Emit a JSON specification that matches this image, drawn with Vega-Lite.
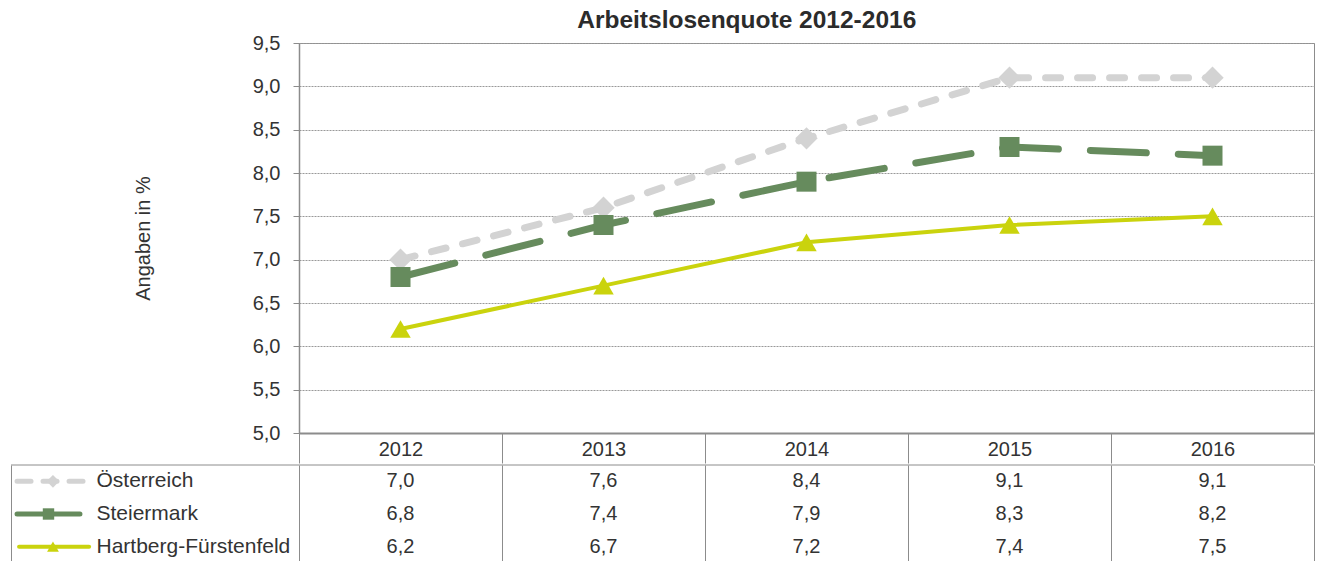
{
  "$schema": "https://vega.github.io/schema/vega-lite/v6.json",
  "background": "white",
  "padding": {"left": 10, "top": 7, "right": 6, "bottom": 0},
  "config": {"font": "Liberation Sans", "concat": {"spacing": 0}, "view": {"stroke": null}},
  "title": {"text": "Arbeitslosenquote 2012-2016", "fontSize": 24.5, "fontWeight": "bold", "color": "#2b2b2b", "anchor": "middle", "offset": -0.5, "dx": 84, "font": "Liberation Sans"},
  "datasets": {
    "quote": [
      {"series": "Österreich", "year": 2012, "value": 7.0},
      {"series": "Österreich", "year": 2013, "value": 7.6},
      {"series": "Österreich", "year": 2014, "value": 8.4},
      {"series": "Österreich", "year": 2015, "value": 9.1},
      {"series": "Österreich", "year": 2016, "value": 9.1},
      {"series": "Steiermark", "year": 2012, "value": 6.8},
      {"series": "Steiermark", "year": 2013, "value": 7.4},
      {"series": "Steiermark", "year": 2014, "value": 7.9},
      {"series": "Steiermark", "year": 2015, "value": 8.3},
      {"series": "Steiermark", "year": 2016, "value": 8.2},
      {"series": "Hartberg-Fürstenfeld", "year": 2012, "value": 6.2},
      {"series": "Hartberg-Fürstenfeld", "year": 2013, "value": 6.7},
      {"series": "Hartberg-Fürstenfeld", "year": 2014, "value": 7.2},
      {"series": "Hartberg-Fürstenfeld", "year": 2015, "value": 7.4},
      {"series": "Hartberg-Fürstenfeld", "year": 2016, "value": 7.5}
    ]
  },
  "vconcat": [
    {
      "width": 1015,
      "height": 390,
      "view": {"stroke": "#8c8c8c", "strokeWidth": 1},
      "data": {"name": "quote"},
      "encoding": {
        "x": {
          "field": "year", "type": "ordinal",
          "scale": {"type": "band", "paddingInner": 0, "paddingOuter": 0},
          "axis": {"title": null, "labelAngle": 0, "labelFontSize": 20, "labelColor": "#333333", "labelPadding": -24, "labelBaseline": "top", "tickBand": "extent", "tickSize": 30, "tickColor": "#8c8c8c", "tickWidth": 1, "domainColor": "#8c8c8c", "domainWidth": 2}
        },
        "y": {
          "field": "value", "type": "quantitative",
          "scale": {"domain": [5, 9.5], "nice": false, "zero": false},
          "axis": {"title": "Angaben in %", "titleFontSize": 20, "titleFontWeight": "normal", "titleColor": "#333333", "titlePadding": 99, "values": [5, 5.5, 6, 6.5, 7, 7.5, 8, 8.5, 9, 9.5], "labelExpr": "replace(format(datum.value, '.1f'), '.', ',')", "labelFontSize": 20, "labelColor": "#333333", "labelPadding": 13, "tickSize": 6, "tickColor": "#8c8c8c", "domainColor": "#8c8c8c", "domainWidth": 1.5, "gridColor": "#999999", "gridDash": [2, 1], "gridWidth": 1}
        }
      },
      "layer": [
        {"transform": [{"filter": "datum.series === 'Österreich'"}], "mark": {"type": "line", "color": "#D3D3D3", "strokeWidth": 7, "strokeDash": [15, 17], "strokeCap": "round"}},
        {"transform": [{"filter": "datum.series === 'Österreich'"}], "mark": {"type": "point", "shape": "diamond", "filled": true, "size": 500, "color": "#D3D3D3", "opacity": 1}},
        {"transform": [{"filter": "datum.series === 'Steiermark'"}], "mark": {"type": "line", "color": "#668B5D", "strokeWidth": 7, "strokeDash": [56, 32], "strokeCap": "round"}},
        {"transform": [{"filter": "datum.series === 'Steiermark'"}], "mark": {"type": "point", "shape": "square", "filled": true, "size": 400, "color": "#668B5D", "opacity": 1}},
        {"transform": [{"filter": "datum.series === 'Hartberg-Fürstenfeld'"}], "mark": {"type": "line", "color": "#CAD30D", "strokeWidth": 4}},
        {"transform": [{"filter": "datum.series === 'Hartberg-Fürstenfeld'"}], "mark": {"type": "point", "shape": "triangle-up", "filled": true, "size": 420, "color": "#CAD30D", "opacity": 1}}
      ]
    },
    {
      "width": 1015,
      "height": 98,
      "data": {"name": "quote"},
      "transform": [{"calculate": "replace(format(datum.value, '.1f'), '.', ',')", "as": "label"}],
      "encoding": {
        "x": {
          "field": "year", "type": "quantitative",
          "scale": {"domain": [2011.5, 2016.5], "nice": false, "zero": false},
          "axis": {"orient": "top", "values": [2011.5, 2012.5, 2013.5, 2014.5, 2015.5, 2016.5], "grid": true, "gridColor": "#8c8c8c", "gridWidth": 1, "labels": false, "ticks": false, "domain": false, "title": null}
        },
        "y": {
          "field": "series", "type": "nominal",
          "scale": {"type": "band", "domain": ["Österreich", "Steiermark", "Hartberg-Fürstenfeld"], "paddingInner": 0, "paddingOuter": 0},
          "axis": {"title": null, "offset": 288, "domain": true, "domainColor": "#8c8c8c", "domainWidth": 1, "ticks": false, "tickSize": 0, "labelAlign": "left", "labelPadding": -85, "labelFontSize": 21, "labelLimit": 400, "labelColor": "#333333", "grid": false}
        }
      },
      "layer": [
        {
          "transform": [{"filter": "datum.series === 'Österreich' && datum.year === 2012"}],
          "mark": {"type": "rule", "color": "#8c8c8c", "strokeWidth": 1},
          "encoding": {"x": {"datum": 2010.0813, "type": "quantitative"}, "x2": {"datum": 2016.5}, "y": {"field": "series", "type": "nominal", "bandPosition": 0}}
        },
        {"mark": {"type": "text", "fontSize": 20, "color": "#333333", "baseline": "middle"}, "encoding": {"text": {"field": "label"}}},
        {
          "transform": [{"filter": "datum.series === 'Österreich' && datum.year === 2012"}],
          "mark": {"type": "rule", "color": "#D3D3D3", "strokeWidth": 5, "strokeDash": [14, 12], "strokeCap": "round"},
          "encoding": {"x": {"datum": 2010.111, "type": "quantitative"}, "x2": {"datum": 2010.466}}
        },
        {
          "transform": [{"filter": "datum.series === 'Österreich' && datum.year === 2012"}],
          "mark": {"type": "point", "shape": "diamond", "filled": true, "size": 160, "color": "#D3D3D3", "opacity": 1},
          "encoding": {"x": {"datum": 2010.288, "type": "quantitative"}}
        },
        {
          "transform": [{"filter": "datum.series === 'Steiermark' && datum.year === 2012"}],
          "mark": {"type": "rule", "color": "#668B5D", "strokeWidth": 5, "strokeCap": "round"},
          "encoding": {"x": {"datum": 2010.111, "type": "quantitative"}, "x2": {"datum": 2010.421}}
        },
        {
          "transform": [{"filter": "datum.series === 'Steiermark' && datum.year === 2012"}],
          "mark": {"type": "point", "shape": "square", "filled": true, "size": 130, "color": "#668B5D", "opacity": 1},
          "encoding": {"x": {"datum": 2010.266, "type": "quantitative"}}
        },
        {
          "transform": [{"filter": "datum.series === 'Hartberg-Fürstenfeld' && datum.year === 2012"}],
          "mark": {"type": "rule", "color": "#CAD30D", "strokeWidth": 4, "strokeCap": "round"},
          "encoding": {"x": {"datum": 2010.121, "type": "quantitative"}, "x2": {"datum": 2010.466}}
        },
        {
          "transform": [{"filter": "datum.series === 'Hartberg-Fürstenfeld' && datum.year === 2012"}],
          "mark": {"type": "point", "shape": "triangle-up", "filled": true, "size": 140, "color": "#CAD30D", "opacity": 1},
          "encoding": {"x": {"datum": 2010.288, "type": "quantitative"}}
        }
      ]
    }
  ]
}
